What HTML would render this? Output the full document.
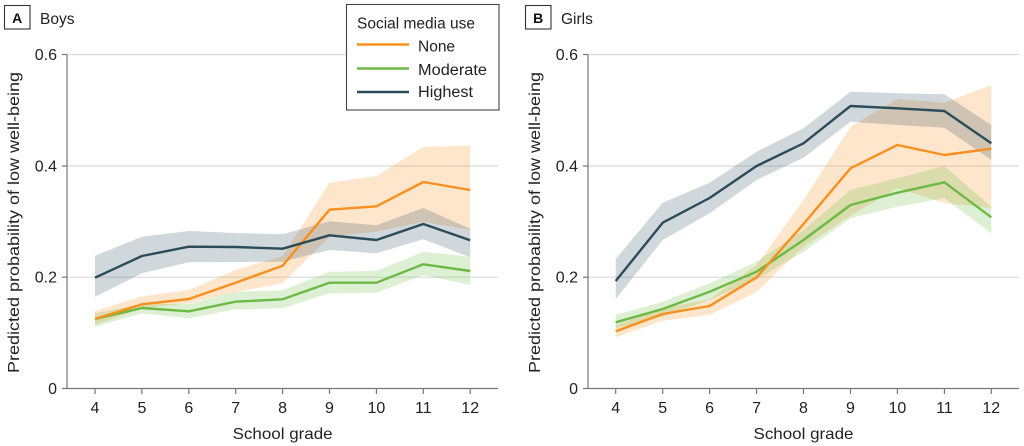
<!DOCTYPE html>
<html><head><meta charset="utf-8"><style>
html,body{margin:0;padding:0;background:#fff;}
svg{display:block;font-family:"Liberation Sans",sans-serif;}
</style></head><body>
<svg width="1024" height="446" viewBox="0 0 1024 446" xmlns="http://www.w3.org/2000/svg">
<!-- LEFT PANEL -->
<g stroke="#dcdcdc" stroke-width="1.2">
<line x1="67" y1="54.5" x2="498" y2="54.5"/>
<line x1="67" y1="166" x2="498" y2="166"/>
<line x1="67" y1="277.2" x2="498" y2="277.2"/>
<line x1="588" y1="54.5" x2="1019" y2="54.5"/>
<line x1="588" y1="166" x2="1019" y2="166"/>
<line x1="588" y1="277.2" x2="1019" y2="277.2"/>
</g>
<!-- bands left -->
<polygon fill="#F7941D" fill-opacity="0.23" points="95,311 141.9,296.3 188.8,290 235.7,270 282.6,256 329.5,182.7 376.4,176 423.3,146.7 470.2,145.7 470.2,230 423.3,221.7 376.4,231.7 329.5,236.7 282.6,283.3 235.7,292 188.8,303.3 141.9,308.3 95,325"/>
<polygon fill="#6DBE45" fill-opacity="0.23" points="95,313.3 141.9,304 188.8,304 235.7,291.7 282.6,290.3 329.5,271.7 376.4,271 423.3,251.7 470.2,256.7 470.2,285 423.3,275 376.4,292.7 329.5,293.3 282.6,308.3 235.7,309.3 188.8,318.3 141.9,313.3 95,326.7"/>
<polygon fill="#2D4F5E" fill-opacity="0.22" points="95,255.7 141.9,236.7 188.8,231 235.7,233 282.6,234.3 329.5,221.3 376.4,225.3 423.3,208 470.2,228.7 470.2,257.3 423.3,239.3 376.4,253.3 329.5,250 282.6,261.7 235.7,262 188.8,262.3 141.9,273.3 95,296.7"/>
<!-- bands right -->
<polygon fill="#F7941D" fill-opacity="0.23" points="615.7,325 662.7,308.3 709.6,299.3 756.6,265 803.5,200 850.5,126.7 897.4,99 944.4,102.7 991.3,85 991.3,208 944.4,203 897.4,188 850.5,215.8 803.5,246.7 756.6,292 709.6,315 662.7,320.7 615.7,337.3"/>
<polygon fill="#6DBE45" fill-opacity="0.23" points="615.7,315 662.7,301.7 709.6,283.3 756.6,261.7 803.5,230 850.5,190 897.4,178.3 944.4,166 991.3,206.7 991.3,233.3 944.4,198.3 897.4,206.7 850.5,218.3 803.5,251.7 756.6,279.3 709.6,300 662.7,316.7 615.7,328.3"/>
<polygon fill="#2D4F5E" fill-opacity="0.22" points="615.7,259 662.7,202.7 709.6,182.7 756.6,151.7 803.5,128.3 850.5,91.7 897.4,93.3 944.4,94.3 991.3,125 991.3,160 944.4,127.7 897.4,125 850.5,121.7 803.5,157.7 756.6,180 709.6,213.3 662.7,240 615.7,299.3"/>
<!-- lines -->
<g fill="none" stroke-width="2.4" stroke-linejoin="round">
<polyline stroke="#6CBA45" points="95,319 141.9,308 188.8,311.3 235.7,301.7 282.6,299.3 329.5,282.7 376.4,282.7 423.3,264.3 470.2,271"/>
<polyline stroke="#F7901E" points="95,319 141.9,304.3 188.8,299 235.7,282.7 282.6,265.7 329.5,209.7 376.4,206.3 423.3,182 470.2,190"/>
<polyline stroke="#2C4C5A" points="95,277.7 141.9,256 188.8,246.7 235.7,247 282.6,248.7 329.5,235.3 376.4,240 423.3,224 470.2,240.3"/>
<polyline stroke="#6CBA45" points="615.7,322.3 662.7,309 709.6,291.7 756.6,271.7 803.5,240 850.5,205 897.4,192.7 944.4,182.3 991.3,217.3"/>
<polyline stroke="#F7901E" points="615.7,331.3 662.7,314 709.6,306 756.6,277.3 803.5,224 850.5,168.3 897.4,145 944.4,155 991.3,148.7"/>
<polyline stroke="#2C4C5A" points="615.7,281 662.7,222.7 709.6,198 756.6,166 803.5,143.3 850.5,106 897.4,108.3 944.4,111 991.3,143.3"/>
</g>
<!-- axes -->
<g stroke="#777" stroke-width="1.2" fill="none">
<line x1="67" y1="54.5" x2="67" y2="388.5"/>
<line x1="67" y1="388.5" x2="498" y2="388.5"/>
<line x1="62" y1="54.5" x2="67" y2="54.5"/>
<line x1="62" y1="166" x2="67" y2="166"/>
<line x1="62" y1="277.2" x2="67" y2="277.2"/>
<line x1="62" y1="388.5" x2="67" y2="388.5"/>
<line x1="95" y1="388.5" x2="95" y2="394"/>
<line x1="141.9" y1="388.5" x2="141.9" y2="394"/>
<line x1="188.8" y1="388.5" x2="188.8" y2="394"/>
<line x1="235.7" y1="388.5" x2="235.7" y2="394"/>
<line x1="282.6" y1="388.5" x2="282.6" y2="394"/>
<line x1="329.5" y1="388.5" x2="329.5" y2="394"/>
<line x1="376.4" y1="388.5" x2="376.4" y2="394"/>
<line x1="423.3" y1="388.5" x2="423.3" y2="394"/>
<line x1="470.2" y1="388.5" x2="470.2" y2="394"/>
<line x1="588" y1="54.5" x2="588" y2="388.5"/>
<line x1="588" y1="388.5" x2="1019" y2="388.5"/>
<line x1="583" y1="54.5" x2="588" y2="54.5"/>
<line x1="583" y1="166" x2="588" y2="166"/>
<line x1="583" y1="277.2" x2="588" y2="277.2"/>
<line x1="583" y1="388.5" x2="588" y2="388.5"/>
<line x1="615.7" y1="388.5" x2="615.7" y2="394"/>
<line x1="662.7" y1="388.5" x2="662.7" y2="394"/>
<line x1="709.6" y1="388.5" x2="709.6" y2="394"/>
<line x1="756.6" y1="388.5" x2="756.6" y2="394"/>
<line x1="803.5" y1="388.5" x2="803.5" y2="394"/>
<line x1="850.5" y1="388.5" x2="850.5" y2="394"/>
<line x1="897.4" y1="388.5" x2="897.4" y2="394"/>
<line x1="944.4" y1="388.5" x2="944.4" y2="394"/>
<line x1="991.3" y1="388.5" x2="991.3" y2="394"/>
</g>
<!-- tick labels -->
<g fill="#222" font-size="16" text-anchor="end">
<text x="57" y="60">0.6</text>
<text x="57" y="171.5">0.4</text>
<text x="57" y="282.7">0.2</text>
<text x="57" y="394">0</text>
<text x="578" y="60">0.6</text>
<text x="578" y="171.5">0.4</text>
<text x="578" y="282.7">0.2</text>
<text x="578" y="394">0</text>
</g>
<g fill="#222" font-size="16" text-anchor="middle">
<text x="95" y="413">4</text><text x="141.9" y="413">5</text><text x="188.8" y="413">6</text><text x="235.7" y="413">7</text><text x="282.6" y="413">8</text><text x="329.5" y="413">9</text><text x="376.4" y="413">10</text><text x="423.3" y="413">11</text><text x="470.2" y="413">12</text>
<text x="615.7" y="413">4</text><text x="662.7" y="413">5</text><text x="709.6" y="413">6</text><text x="756.6" y="413">7</text><text x="803.5" y="413">8</text><text x="850.5" y="413">9</text><text x="897.4" y="413">10</text><text x="944.4" y="413">11</text><text x="991.3" y="413">12</text>
<text x="282.6" y="439" textLength="100" lengthAdjust="spacingAndGlyphs">School grade</text>
<text x="803.5" y="439" textLength="100" lengthAdjust="spacingAndGlyphs">School grade</text>
<text transform="translate(19,222.5) rotate(-90)" textLength="301" lengthAdjust="spacingAndGlyphs">Predicted probability of low well-being</text>
<text transform="translate(540,222.5) rotate(-90)" textLength="301" lengthAdjust="spacingAndGlyphs">Predicted probability of low well-being</text>
</g>
<!-- panel labels -->
<rect x="4.5" y="5.5" width="25.5" height="23.5" fill="#fff" stroke="#333" stroke-width="1.1"/>
<text x="17.2" y="23" font-size="14" font-weight="bold" text-anchor="middle" fill="#111">A</text>
<text x="40" y="24" font-size="15.5" fill="#222">Boys</text>
<rect x="525.5" y="5.5" width="25.5" height="23.5" fill="#fff" stroke="#333" stroke-width="1.1"/>
<text x="538.2" y="23" font-size="14" font-weight="bold" text-anchor="middle" fill="#111">B</text>
<text x="561" y="24" font-size="15.5" fill="#222">Girls</text>
<!-- legend -->
<rect x="346.5" y="4.5" width="152.5" height="105.5" fill="#fff" stroke="#444" stroke-width="1.1"/>
<text x="357" y="28.5" font-size="15.5" fill="#222" textLength="118" lengthAdjust="spacingAndGlyphs">Social media use</text>
<line x1="357" y1="44.5" x2="409" y2="44.5" stroke="#F7901E" stroke-width="2.4"/>
<line x1="357" y1="68.5" x2="409" y2="68.5" stroke="#6CBA45" stroke-width="2.4"/>
<line x1="357" y1="92" x2="409" y2="92" stroke="#2C4C5A" stroke-width="2.4"/>
<text x="418" y="51.5" font-size="15.5" fill="#222">None</text>
<text x="418" y="75" font-size="15.5" fill="#222" textLength="69" lengthAdjust="spacingAndGlyphs">Moderate</text>
<text x="418" y="97" font-size="15.5" fill="#222" textLength="55" lengthAdjust="spacingAndGlyphs">Highest</text>
</svg>
</body></html>
